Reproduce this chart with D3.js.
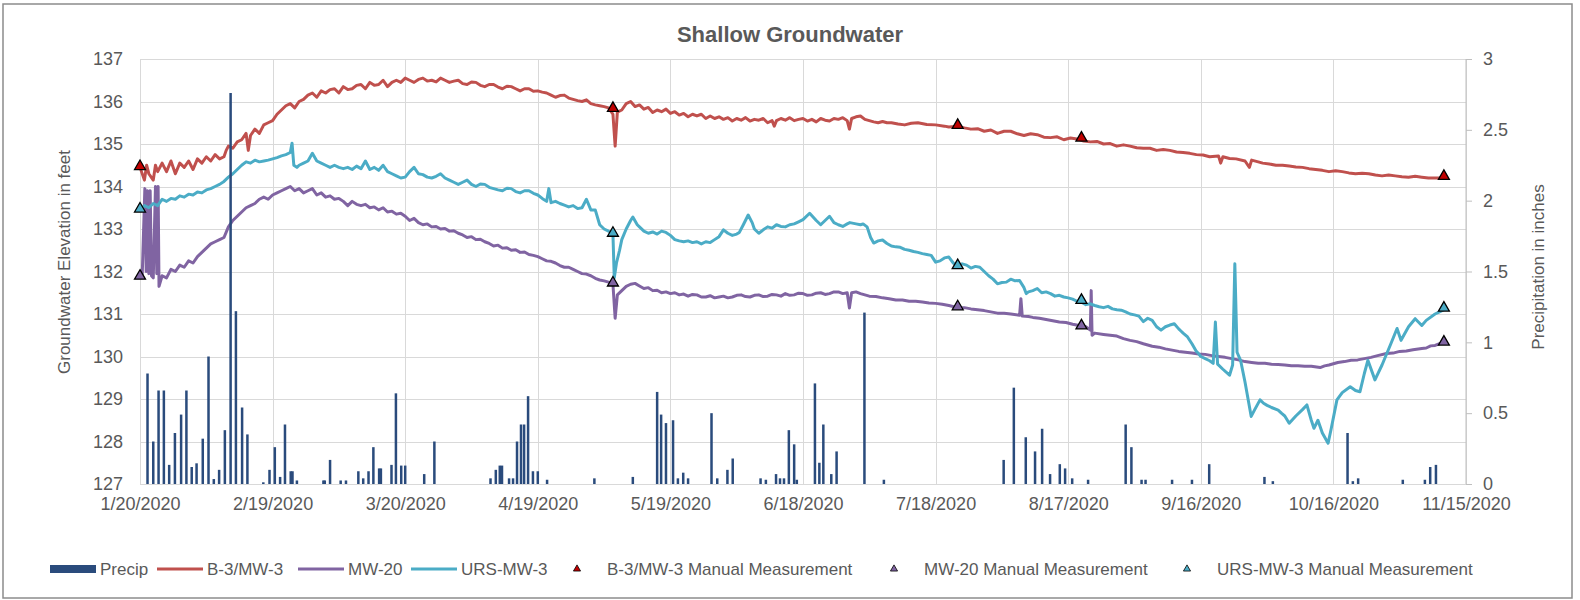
<!DOCTYPE html>
<meta charset="utf-8">
<html>
<head>
<style>
body {
  margin: 0;
  background: #fff;
  font-family: "Liberation Sans", Arial, Helvetica, sans-serif;
}

.grid line {
  stroke: #d9d9d9;
  stroke-width: 1;
  shape-rendering: crispEdges;
}

.grid path {
  stroke-width: 0;
}

.axis path {
  stroke: none;
}

.axis text {
  fill: #595959;
  font-size: 18px;
  font-family: "Liberation Sans", Arial, sans-serif;
}
</style>
</head>
<body>
<div id="my_dataviz"></div>

<script src="https://d3js.org/d3.v7.min.js"></script>
<script>

// ---- data ----
// days are counted from 1/20/2020
var xTickLabels = ["1/20/2020", "2/19/2020", "3/20/2020", "4/19/2020", "5/19/2020", "6/18/2020",
                   "7/18/2020", "8/17/2020", "9/16/2020", "10/16/2020", "11/15/2020"];
var leftTicks = [127, 128, 129, 130, 131, 132, 133, 134, 135, 136, 137];
var rightTicks = [0, 0.5, 1, 1.5, 2, 2.5, 3];

var precipDay = [1.7,3,4.2,5.4,6.6,7.9,9.3,10.5,11.7,12.8,
  14.2,15.5,16.7,17.9,19.2,20.5,21.7,23.1,24.3,27.9,
  29.3,30.5,31.7,32.8,34.1,34.5,35.5,41.5,41.8,43,
  45.4,46.6,49.4,50.5,51.7,52.8,54.1,54.5,56.9,57.9,
  59.1,60.0,64.3,66.6,79.3,80.5,81.4,81.9,83.5,84.4,
  85.3,86.2,86.9,87.8,88.9,90,92.1,102.8,111.5,117,
  117.9,119,120.6,121.7,122.9,124,129.3,130.6,132.9,134.1,
  140.4,141.6,143.9,144.8,145.7,146.8,148,148.6,152.7,153.7,
  154.6,156.4,157.6,163.9,168.3,195.4,197.7,200.4,202.5,204.1,
  205.9,208.1,209.3,210.9,214.5,223,224.3,226.6,227.5,233.5,
  238,241.9,254.4,256.3,273.2,274.4,275.6,285.7,290.7,291.9,
  293.2];
var precipInches = [0.78,0.30,0.66,0.66,0.135,0.36,0.49,0.66,0.12,0.146,
  0.32,0.90,0.035,0.10,0.38,2.76,1.22,0.54,0.35,0.012,
  0.10,0.26,0.05,0.42,0.09,0.09,0.025,0.025,0.025,0.17,
  0.025,0.025,0.09,0.04,0.09,0.26,0.11,0.11,0.135,0.64,
  0.13,0.13,0.07,0.30,0.04,0.10,0.13,0.13,0.04,0.04,
  0.30,0.42,0.42,0.62,0.09,0.09,0.03,0.04,0.05,0.65,
  0.49,0.43,0.45,0.04,0.08,0.04,0.50,0.04,0.10,0.18,
  0.04,0.03,0.07,0.04,0.04,0.38,0.28,0.03,0.71,0.15,
  0.42,0.07,0.23,1.21,0.03,0.17,0.68,0.33,0.23,0.39,
  0.07,0.14,0.11,0.04,0.03,0.42,0.26,0.03,0.03,0.03,
  0.03,0.14,0.05,0.02,0.36,0.02,0.04,0.03,0.03,0.12,
  0.135];

// B-3/MW-3 logger  [day, feet]
var b3 = [[0,134.45],[1,134.15],[1.5,134.5],[2,134.3],[3,134.15],[3.5,134.5],[4,134.35],[5,134.55],[6,134.35],[7,134.6],
  [8,134.3],[9,134.55],[10,134.45],[11,134.6],[12,134.4],[13,134.65],[14,134.55],[15,134.7],[16,134.6],[17,134.75],
  [18,134.65],[19,134.7],[19.5,134.85],[20,134.95],[21,134.9],[22,135.05],[23,135.1],[24,135.25],[24.5,134.85],[25,135.2],
  [26,135.35],[27,135.25],[28,135.45],[29,135.5],[30,135.55],[31,135.7],[32,135.8],[33,135.9],[34,135.95],[35,135.85],
  [36,136.0],[37,136.05],[38,136.15],[39,136.2],[40,136.1],[41,136.25],[42,136.2],[43,136.28],[44,136.3],[45,136.2],[46,136.35],
  [47,136.28],[48,136.3],[49,136.38],[50,136.4],[51,136.3],[52,136.45],[53,136.38],[54,136.4],[55,136.5],[56,136.35],[57,136.45],[58,136.5],
  [59,136.45],[60,136.55],[61,136.5],[62,136.45],[63,136.52],[64,136.55],[65,136.48],[66,136.5],[67,136.46],[68,136.55],[69,136.5],[70,136.45],
  [71,136.48],[72,136.5],[73,136.42],[74,136.4],[75,136.46],[76,136.45],[77,136.38],[78,136.35],[79,136.4],[80,136.4],[81,136.34],[82,136.3],
  [83,136.36],[84,136.35],[85,136.3],[86,136.25],[87,136.3],[88,136.3],[89,136.24],[90,136.25],[91,136.22],[92,136.2],[93,136.15],[94,136.1],
  [95,136.14],[96,136.15],[97,136.08],[98,136.05],[99,136.02],[100,136.0],[101,136.04],[102,135.95],[103,135.92],
  [104,135.9],[105,135.88],[106,135.85],[107,135.7],[107.5,134.95],[108,135.75],[109,135.8],
  [110,135.95],[111,136.0],[112,135.88],[113,135.92],[114,135.82],[115,135.86],[116,135.74],[117,135.8],[118,135.76],[119,135.82],
  [120,135.72],[121,135.76],[122,135.68],[123,135.72],[124,135.64],[125,135.7],[126,135.66],[127,135.7],[128,135.6],[129,135.66],
  [130,135.6],[131,135.64],[132,135.58],[133,135.62],[134,135.54],[135,135.6],[136,135.56],[137,135.62],[138,135.54],[139,135.58],
  [140,135.56],[141,135.6],[142,135.5],[143,135.55],[143.5,135.42],[144,135.55],[145,135.6],[146,135.56],[147,135.62],[148,135.55],
  [149,135.58],[150,135.6],[151,135.54],[152,135.58],[153,135.52],[154,135.6],[155,135.56],[156,135.54],[157,135.6],[158,135.58],
  [159,135.62],[160,135.55],[160.5,135.35],[161,135.6],[162,135.64],[163,135.66],[164,135.58],[165,135.55],[166,135.52],[167,135.5],
  [168,135.53],[169,135.5],[170,135.5],[171.5,135.47],[173,135.45],[174.5,135.49],[176,135.5],[178,135.46],[180,135.45],
  [182,135.42],[183,135.4],[185,135.42],[186.5,135.38],[188,135.35],[189.5,135.36],[191,135.3],[192.5,135.33],[194,135.25],[195.5,135.3],
  [197,135.3],[198.5,135.24],[200,135.2],[201.5,135.24],[203,135.22],[204.5,135.16],[206,135.15],[207.5,135.17],[209,135.1],[210.5,135.14],
  [212,135.12],[213.5,135.07],[215,135.05],[216.5,135.06],[218,135.0],[219.5,135.01],[221,134.95],[222.5,134.98],[224,134.95],[225.5,134.91],
  [227,134.9],[228.5,134.9],[230,134.85],[231.5,134.87],[233,134.85],[234.5,134.81],[236,134.8],[237.5,134.78],[239,134.75],[240.5,134.74],
  [242,134.7],[244,134.72],[244.5,134.55],[245,134.7],[246.5,134.66],[248,134.65],[250,134.6],[251,134.45],[251.5,134.62],
  [253,134.58],[254,134.55],[255.5,134.53],[257,134.5],[258.5,134.5],[260,134.48],[261.5,134.46],[263,134.45],[264.5,134.42],[266,134.4],
  [267.5,134.38],[269,134.35],[270.5,134.37],[272,134.35],[273.5,134.32],[275,134.3],[276.5,134.31],[278,134.3],[279.5,134.27],[281,134.25],
  [282.5,134.27],[284,134.25],[285.5,134.23],[287,134.22],[288.5,134.24],[290,134.22],[291.5,134.2],[293,134.2],[295,134.2]];

// MW-20 logger
var mw20 = [[0,131.87],[0.5,131.9],[1.1,133.95],[1.4,132.0],[1.7,133.9],[2.0,131.95],[2.3,133.9],[2.6,131.9],[3.0,131.85],[3.5,134.0],
  [3.8,131.95],[4.1,134.0],[4.3,131.65],[5,131.9],[6,131.85],[7,132.05],[8,132.0],[9,132.15],[10,132.1],[11,132.25],
  [12,132.2],[13,132.35],[14,132.45],[15,132.55],[16,132.65],[17,132.7],[18,132.75],[19,132.8],[20,133.05],[21,133.2],
  [22,133.3],[23,133.4],[24,133.5],[25,133.55],[26,133.6],[27,133.7],[28,133.75],[29,133.7],[30,133.8],[31,133.85],
  [32,133.9],[33,133.95],[34,134.0],[35,133.9],[36,133.95],[37,133.85],[38,133.9],[39,133.95],[40,133.8],[41,133.85],
  [42,133.75],[43,133.78],[44,133.7],[45,133.72],[46,133.65],[47,133.55],[48,133.65],[49,133.58],[50,133.55],[51,133.58],[52,133.5],[53,133.52],
  [54,133.45],[55,133.5],[56,133.4],[57,133.42],[58,133.35],[59,133.37],[60,133.3],[61,133.2],[62,133.25],[63,133.15],[64,133.1],[65,133.12],
  [66,133.05],[67,133.06],[68,133.0],[69,133.01],[70,132.95],[71,132.96],[72,132.9],[73,132.86],[74,132.8],[75,132.82],
  [76,132.75],[77,132.76],[78,132.7],[79,132.66],[80,132.6],[81,132.62],[82,132.55],[83,132.56],[84,132.5],[85,132.51],[86,132.45],[87,132.46],
  [88,132.4],[89,132.38],[90,132.35],[91,132.3],[92,132.25],[93,132.24],[94,132.2],[95,132.14],
  [96,132.1],[97,132.1],[98,132.05],[99,132.0],[100,131.95],[101,131.94],[102,131.9],[103,131.84],[104,131.8],[105,131.78],[106,131.75],
  [107,131.7],[107.5,130.9],[108,131.45],[109,131.55],
  [110,131.65],[111,131.7],[112,131.72],[113,131.66],[114,131.6],[115,131.62],[116,131.55],[117,131.56],[118,131.5],[119,131.52],
  [120,131.48],[121,131.5],[122,131.45],[123,131.47],[124,131.42],[125,131.46],[126,131.45],[127,131.4],[128,131.4],[129,131.43],
  [130,131.38],[131,131.4],[132,131.42],[133,131.38],[134,131.4],[135,131.44],[136,131.45],[137,131.41],[138,131.4],[139,131.44],
  [140,131.45],[141,131.41],[142,131.42],[143,131.46],[144,131.45],[145,131.42],[146,131.48],[147,131.44],
  [148,131.45],[149,131.49],[150,131.48],[151,131.44],[152,131.45],[153,131.49],[154,131.5],[155,131.46],[156,131.48],[157,131.52],
  [158,131.52],[159,131.48],[160,131.5],[160.5,131.14],[161,131.5],[162,131.52],[163,131.48],
  [165,131.42],[166.5,131.41],[168,131.38],[169.5,131.36],[171,131.33],[172.5,131.33],[174,131.3],[175.5,131.3],[177,131.28],[178.5,131.26],
  [180,131.25],[181.5,131.23],[183,131.2],[185,131.15],[186.5,131.15],[188,131.12],[189.5,131.1],[191,131.08],
  [192.5,131.05],[194,131.02],[195.5,131.02],[197,131.0],[199,130.97],[199.3,131.36],[199.6,130.95],[201,130.94],[202,130.92],[203.5,130.9],
  [205,130.87],[206.5,130.84],[208,130.81],[209.5,130.8],[211,130.76],[212.5,130.73],[214,130.7],
  [215,130.62],[215.2,131.55],[215.4,130.5],[216,130.55],[218,130.52],[219.5,130.5],[221,130.48],[222.5,130.42],[224,130.38],[225.5,130.35],
  [227,130.3],[229,130.24],[230.5,130.22],[232,130.18],[233.5,130.15],
  [235,130.12],[236.5,130.1],[238,130.08],[239.5,130.06],[241,130.05],[242.5,130.02],[244,130.0],[245.5,129.98],[247,129.95],[248.5,129.92],
  [250,129.88],[251.5,129.86],[253,129.84],[254.5,129.84],[256,129.82],[257.5,129.81],[259,129.8],[260.5,129.78],[262,129.78],[263.5,129.77],
  [265,129.77],[267,129.74],[268,129.78],[269,129.8],[270,129.83],[271,129.86],[272.5,129.88],[274,129.91],[275.5,129.92],[277,129.95],
  [278.5,129.98],[280,130.02],[282,130.07],[283.5,130.08],[285,130.12],[286.5,130.13],[288,130.16],
  [290,130.19],[291,130.2],[292,130.25],[293,130.26],[294,130.3],[295,130.32]];

// URS-MW-3 logger
var urs = [[0,133.45],[1,133.55],[2,133.5],[3,133.6],[4,133.55],[5,133.7],[6,133.65],[7,133.72],[8,133.7],[9,133.78],
  [10,133.75],[11,133.82],[12,133.8],[13,133.87],[14,133.85],[15,133.92],[16,133.95],[17,134.0],[18,134.05],[19,134.12],
  [20,134.22],[21,134.3],[22,134.4],[23,134.5],[24,134.58],[25,134.55],[26,134.62],[27,134.58],[28,134.6],[29,134.62],
  [30,134.65],[31,134.68],[32,134.72],[33,134.75],[34,134.8],[34.4,135.02],[34.8,134.5],[35.5,134.45],[36,134.5],[37,134.55],
  [38,134.6],[39,134.78],[40,134.6],[41,134.55],[42,134.5],[43,134.45],[44,134.5],[45,134.45],[46,134.42],[47,134.45],
  [48,134.4],[49,134.48],[50,134.42],[51,134.6],[52,134.4],[53,134.45],[54,134.38],[55,134.5],[56,134.35],[57,134.3],
  [58,134.25],[59,134.2],[60,134.22],[61,134.35],[62,134.45],[63,134.3],[64,134.28],[65,134.22],[66,134.2],[67,134.24],[68,134.3],
  [69,134.2],[70,134.15],[71,134.1],[72,134.05],[73,134.1],[74,134.15],[75,134.05],[76,134.0],[77,134.06],[78,134.05],[79,133.98],[80,133.95],
  [81,133.92],[82,133.9],[83,133.96],[84,133.95],[85,133.88],[86,133.85],[87,133.9],[88,133.9],[89,133.84],
  [90,133.8],[91,133.72],[92,133.65],[92.5,133.95],[93,133.62],[94,133.65],[95,133.6],[96,133.56],[97,133.52],[98,133.55],[99,133.48],[100,133.5],[101,133.7],[102,133.45],
  [103,133.45],[104,133.1],[105,133.0],[106,132.95],[107,132.88],[107.3,131.85],[107.8,132.2],[108.5,132.5],[109,132.75],[110,133.0],
  [111,133.2],[111.5,133.28],[112.5,133.1],[113,133.05],[114,132.95],[115,132.9],[116,132.93],[117,132.88],[118,132.95],[119,132.92],[120,132.85],[121,132.75],
  [122,132.72],[123,132.7],[124,132.72],[125,132.68],[126,132.7],[127,132.65],[128,132.7],[129,132.68],[130,132.75],[131,132.82],[132,132.98],[133,132.9],[134,132.85],
  [135,132.88],[135.6,132.92],[136.5,133.1],[137.6,133.33],[138.5,133.15],[139,133.0],
  [140,132.9],[141,132.98],[142,133.05],[143,133.02],[144,133.1],[145,133.06],[146,133.05],[147,133.1],[148,133.12],[149,133.17],[150,133.22],[151.5,133.37],[153,133.2],[154,133.1],
  [155,133.2],[156,133.3],[157,133.15],[158,133.1],[159,133.06],[160,133.12],[160.6,133.15],[162,133.12],[163,133.1],[163.6,133.12],[164.5,133.05],[165.3,132.8],[166,132.67],[167,132.72],
  [168,132.74],[169,132.66],[170,132.6],[171,132.58],
  [172,132.57],[173,132.52],[174,132.5],[175,132.47],[176,132.45],[177,132.42],[178,132.4],[179,132.38],[180,132.22],[181,132.25],
  [182,132.32],[183,132.34],[184,132.2],[185,132.12],[186,132.18],[187,132.15],[188,132.08],[189,132.12],[190,132.1],[191,132.0],
  [192,131.9],[193,131.82],[194,131.71],[195,131.74],[196,131.75],[197,131.82],[198,131.78],[199,131.79],[200,131.62],[200.5,131.48],
  [201,131.52],[202,131.55],[203,131.6],[204,131.5],[205,131.52],[206,131.48],[207,131.42],[208,131.44],[209,131.4],[210,131.38],
  [211,131.35],[212,131.3],[213,131.28],[214,131.22],[215,131.24],[216,131.2],[217,131.17],[218,131.15],[219,131.18],[220,131.12],
  [221,131.1],[222,131.09],[223,131.05],[224,131.0],[225,130.98],[226,130.95],[227,130.82],[228,130.9],[229,130.85],[230,130.7],
  [231,130.62],[232,130.7],[233,130.74],[234,130.77],[235,130.65],[235.5,130.6],[236,130.55],[237,130.46],[238,130.3],[239,130.12],
  [239.5,130.07],[240,130.0],[241,129.95],[242,129.9],[242.8,129.84],[243.3,130.81],[243.8,129.82],[245,129.7],[246.5,129.56],[247.2,129.8],[247.7,132.18],[248.2,130.1],[249,129.91],
  [250,129.4],[251.4,128.59],[252.2,128.75],[253.4,128.98],[254.2,128.9],[255,128.85],[256,128.8],[257.5,128.74],[258.3,128.66],[259,128.6],[260,128.43],[261.5,128.6],[263,128.75],
  [264,128.86],[265,128.5],[265.6,128.31],[266.5,128.5],[267.5,128.2],[268.8,127.96],[269.5,128.3],[270.8,128.98],[272,129.15],[273.8,129.29],
  [275,129.2],[276,129.17],[277,129.6],[277.8,129.91],[279.4,129.45],[281,129.8],[283,130.3],[284.4,130.66],[285.3,130.38],[287,130.7],
  [288.5,130.89],[290,130.73],[291,130.85],[293,131.0],[294,131.05],[295,131.1]];

// manual measurements
var manualDates = ["1/20/2020", "5/6/2020", "7/23/2020", "8/20/2020", "11/10/2020"];
var b3Manual   = [134.45, 135.82, 135.42, 135.12, 134.22];
var mw20Manual = [131.87, 131.71, 131.15, 130.70, 130.32];
var ursManual  = [133.45, 132.88, 132.12, 131.30, 131.12];

// ---- chart ----
var W = 1580, H = 600;
var margin = {top: 59, right: 114, bottom: 116, left: 140},
    width = W - margin.left - margin.right,
    height = H - margin.top - margin.bottom;

var parse = d3.timeParse("%m/%d/%Y");
var start = parse(xTickLabels[0]);
function dayDate(d) { return new Date(start.getTime() + d * 864e5); }

var svg0 = d3.select("#my_dataviz")
  .append("svg")
    .attr("width", W)
    .attr("height", H);

// outer frame
svg0.append("rect")
    .attr("x", 3).attr("y", 4)
    .attr("width", W - 11).attr("height", H - 6)
    .attr("fill", "#fff")
    .attr("stroke", "#8c8c8c")
    .attr("stroke-width", 1.5);

var svg = svg0.append("g")
    .attr("transform", "translate(" + margin.left + "," + margin.top + ")");

var x = d3.scaleTime()
  .domain([start, parse(xTickLabels[xTickLabels.length - 1])])
  .range([0, width]);

var y = d3.scaleLinear()
  .domain([127, 137])
  .range([height, 0]);

var y2 = d3.scaleLinear()
  .domain([0, 3])
  .range([height, 0]);

// gridlines
svg.append("g")
    .attr("class", "grid")
    .attr("transform", "translate(0," + height + ")")
    .call(d3.axisBottom(x)
        .tickValues(xTickLabels.map(parse))
        .tickSize(-height)
        .tickFormat(""));

svg.append("g")
    .attr("class", "grid")
    .call(d3.axisLeft(y)
        .tickValues(leftTicks)
        .tickSize(-width)
        .tickFormat(""));

// axes
svg.append("g")
    .attr("class", "axis")
    .attr("transform", "translate(0," + height + ")")
    .call(d3.axisBottom(x)
        .tickValues(xTickLabels.map(parse))
        .tickSize(0)
        .tickPadding(13)
        .tickFormat(function(d, i) { return xTickLabels[i]; }));

svg.append("g")
    .attr("class", "axis")
    .call(d3.axisLeft(y)
        .tickValues(leftTicks)
        .tickSize(0)
        .tickPadding(17)
        .tickFormat(d3.format("d")));

var rAxis = svg.append("g")
    .attr("class", "axis")
    .attr("transform", "translate(" + width + ",0)")
    .call(d3.axisRight(y2)
        .tickValues(rightTicks)
        .tickSize(6)
        .tickPadding(11)
        .tickFormat(function(d) { return d; }));
rAxis.selectAll("line").attr("stroke", "#bfbfbf");
rAxis.append("line")
    .attr("y1", 0).attr("y2", height)
    .attr("stroke", "#bfbfbf");

// series lines
var line = d3.line()
  .x(function(d) { return x(dayDate(d[0])); })
  .y(function(d) { return y(d[1]); });

var series = [
  {name: "B-3/MW-3", data: b3, color: "#c0504d"},
  {name: "MW-20", data: mw20, color: "#8064a2"},
  {name: "URS-MW-3", data: urs, color: "#4bacc6"}
];

series.forEach(function(s) {
  svg.append("path")
    .datum(s.data)
    .attr("d", line)
    .attr("fill", "none")
    .attr("stroke", s.color)
    .attr("stroke-width", 3)
    .attr("stroke-linejoin", "round");
});

// precipitation bars (secondary axis)
svg.selectAll(".bar")
  .data(precipDay)
  .enter()
  .append("rect")
    .attr("class", "bar")
    .attr("x", function(d) { return x(dayDate(d)) - 1.25; })
    .attr("width", 2.5)
    .attr("y", function(d, i) { return y2(precipInches[i]); })
    .attr("height", function(d, i) { return height - y2(precipInches[i]); })
    .attr("fill", "#2a4b7c");

// manual measurement triangles
var tri = d3.symbol().type(d3.symbolTriangle).size(52);
var manual = [
  {name: "B-3/MW-3 Manual Measurement", vals: b3Manual, fill: "#c00000"},
  {name: "MW-20 Manual Measurement", vals: mw20Manual, fill: "#8064a2"},
  {name: "URS-MW-3 Manual Measurement", vals: ursManual, fill: "#4bacc6"}
];

manual.forEach(function(m) {
  svg.selectAll(null)
    .data(m.vals)
    .enter()
    .append("path")
      .attr("d", tri)
      .attr("transform", function(d, i) {
        return "translate(" + x(parse(manualDates[i])) + "," + (y(d) - 1) + ")";
      })
      .attr("fill", m.fill)
      .attr("stroke", "#000")
      .attr("stroke-width", 1.3);
});

// titles
svg0.append("text")
    .attr("x", 790)
    .attr("y", 42)
    .attr("text-anchor", "middle")
    .attr("fill", "#595959")
    .style("font-size", "22px")
    .style("font-weight", "bold")
    .text("Shallow Groundwater");

svg0.append("text")
    .attr("transform", "translate(70,262) rotate(-90)")
    .attr("text-anchor", "middle")
    .attr("fill", "#595959")
    .style("font-size", "17px")
    .text("Groundwater Elevation in feet");

svg0.append("text")
    .attr("transform", "translate(1544,267) rotate(-90)")
    .attr("text-anchor", "middle")
    .attr("fill", "#595959")
    .style("font-size", "17px")
    .text("Precipitation in inches");

// legend
var legend = svg0.append("g").attr("transform", "translate(0,569)");
var lx = [50, 157, 298, 411, 577, 894, 1187];
var legendItems = [
  {type: "bar", color: "#2a4b7c", text: "Precip"},
  {type: "line", color: "#c0504d", text: "B-3/MW-3"},
  {type: "line", color: "#8064a2", text: "MW-20"},
  {type: "line", color: "#4bacc6", text: "URS-MW-3"},
  {type: "tri", color: "#c00000", text: manual[0].name},
  {type: "tri", color: "#8064a2", text: manual[1].name},
  {type: "tri", color: "#4bacc6", text: manual[2].name}
];

legendItems.forEach(function(it, i) {
  var g = legend.append("g").attr("transform", "translate(" + lx[i] + ",0)");
  var tx;
  if (it.type == "bar") {
    g.append("rect").attr("x", 0).attr("y", -4).attr("width", 46).attr("height", 8).attr("fill", it.color);
    tx = 50;
  } else if (it.type == "line") {
    g.append("line").attr("x1", 0).attr("x2", 46).attr("y1", 0).attr("y2", 0)
      .attr("stroke", it.color).attr("stroke-width", 3);
    tx = 50;
  } else {
    g.append("path").attr("d", d3.symbol().type(d3.symbolTriangle).size(22))
      .attr("fill", it.color).attr("stroke", "#000").attr("stroke-width", 0.8);
    tx = 30;
  }
  g.append("text")
    .attr("x", tx)
    .attr("y", 6)
    .attr("fill", "#595959")
    .style("font-size", "17px")
    .text(it.text);
});

</script>
</body>
</html>
